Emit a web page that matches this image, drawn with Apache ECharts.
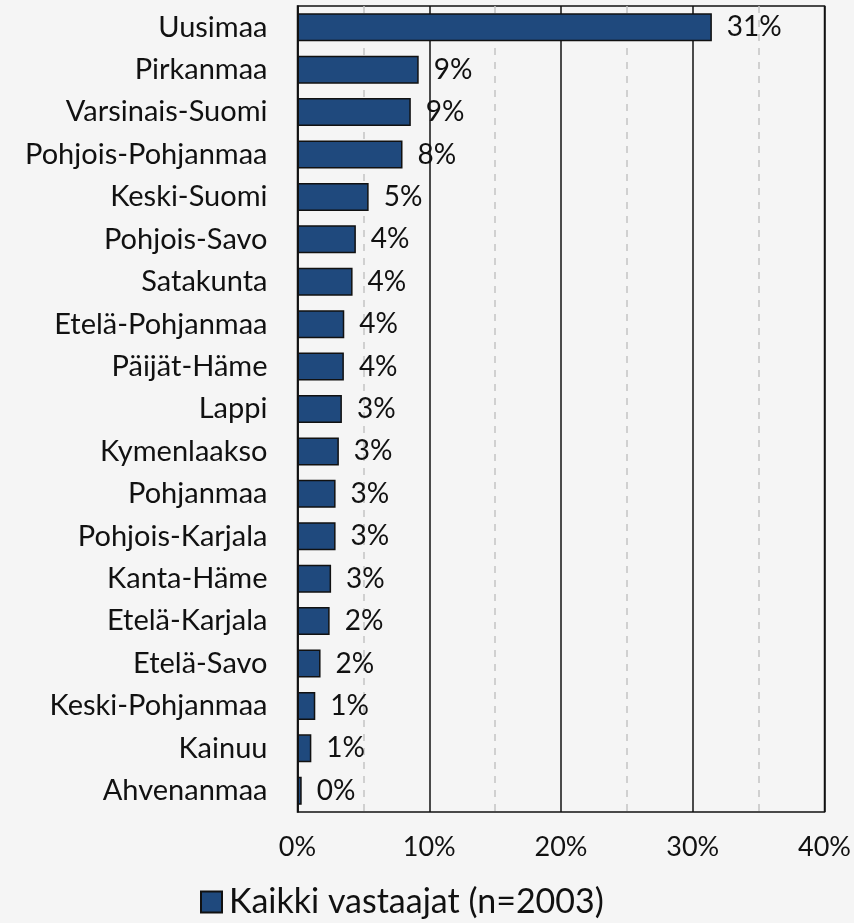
<!DOCTYPE html>
<html>
<head>
<meta charset="utf-8">
<script src="https://cdn.jsdelivr.net/npm/echarts@6/dist/echarts.min.js"></script>
<style>
  html, body { margin: 0; padding: 0; background: #f5f5f5; }
  #chart { width: 854px; height: 923px; }
</style>
</head>
<body>
<div id="chart"></div>
<script>
const regions = ['Uusimaa', 'Pirkanmaa', 'Varsinais-Suomi', 'Pohjois-Pohjanmaa', 'Keski-Suomi',
    'Pohjois-Savo', 'Satakunta', 'Etelä-Pohjanmaa', 'Päijät-Häme', 'Lappi', 'Kymenlaakso',
    'Pohjanmaa', 'Pohjois-Karjala', 'Kanta-Häme', 'Etelä-Karjala', 'Etelä-Savo',
    'Keski-Pohjanmaa', 'Kainuu', 'Ahvenanmaa'];
const shares = [31.45, 9.2, 8.6, 7.97, 5.4, 4.43, 4.18, 3.55, 3.52, 3.37, 3.14,
    2.89, 2.89, 2.55, 2.44, 1.75, 1.35, 1.05, 0.32];
const seriesName = 'Kaikki vastaajat (n=2003)';

const font = 'Lato';
const chart = echarts.init(document.getElementById('chart'));

chart.setOption({
    backgroundColor: '#f5f5f5',
    animation: false,
    textStyle: { fontFamily: font },
    grid: {
        left: 297.5, right: 28.5, top: 6, bottom: 111,
        show: true, borderColor: '#111', borderWidth: 1.5, backgroundColor: 'transparent'
    },
    legend: {
        top: 880, left: 195,
        icon: 'rect',
        itemWidth: 21, itemHeight: 21, itemGap: 8,
        textStyle: { fontSize: 34, color: '#111', fontFamily: font, padding: [0, 0, 0, 2] },
        data: [seriesName]
    },
    xAxis: {
        type: 'value', min: 0, max: 40, interval: 10,
        axisLine: { show: false },
        axisTick: { show: false },
        axisLabel: { formatter: '{value}%', fontSize: 27, color: '#111', margin: 22 },
        splitLine: { show: true, lineStyle: { color: '#111', width: 1.5 } },
        minorTick: { show: false, splitNumber: 2 },
        minorSplitLine: { show: true, lineStyle: { color: '#c4c4c4', width: 1.5, type: [7, 7] } }
    },
    yAxis: {
        type: 'category', inverse: true, data: regions,
        axisLine: { show: true, lineStyle: { color: '#111', width: 1.5 } },
        axisTick: { show: false },
        axisLabel: { fontSize: 29, color: '#111', margin: 30 }
    },
    series: [{
        name: seriesName,
        type: 'bar',
        data: shares,
        barCategoryGap: '34%',
        itemStyle: { color: '#1f497d', borderColor: '#111', borderWidth: 1.5 },
        label: {
            show: true, position: 'right', distance: 15,
            fontSize: 28, color: '#111',
            formatter: p => Math.round(p.value) + '%'
        }
    }]
});
</script>
</body>
</html>
